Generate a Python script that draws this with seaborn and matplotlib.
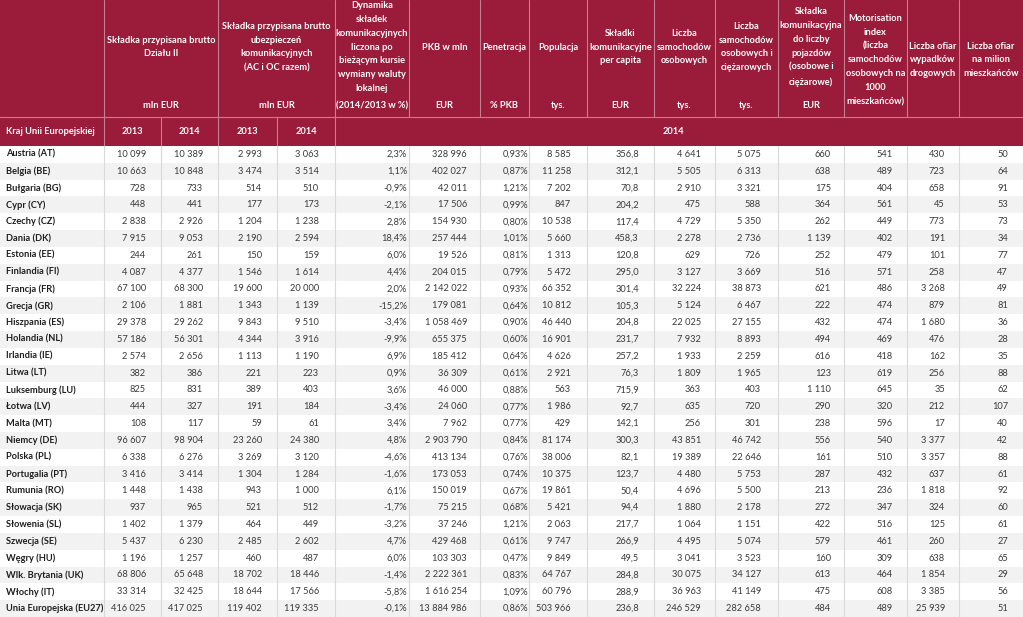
import matplotlib
matplotlib.use("Agg")
import matplotlib.pyplot as plt
from matplotlib.patches import Rectangle
import seaborn as sns

sns.set_theme(style="white")
plt.rcParams['font.family'] = ['Lato', 'DejaVu Sans']

# ---------------- data ----------------
countries = ["Austria (AT)", "Belgia (BE)", "Bułgaria (BG)", "Cypr (CY)", "Czechy (CZ)",
             "Dania (DK)", "Estonia (EE)", "Finlandia (FI)", "Francja (FR)", "Grecja (GR)",
             "Hiszpania (ES)", "Holandia (NL)", "Irlandia (IE)", "Litwa (LT)",
             "Luksemburg (LU)", "Łotwa (LV)", "Malta (MT)", "Niemcy (DE)", "Polska (PL)",
             "Portugalia (PT)", "Rumunia (RO)", "Słowacja (SK)", "Słowenia (SL)",
             "Szwecja (SE)", "Węgry (HU)", "Wlk. Brytania (UK)", "Włochy (IT)",
             "Unia Europejska (EU27)"]
dzial2_2013 = [10099, 10663, 728, 448, 2838, 7915, 244, 4087, 67100, 2106, 29378, 57186, 2574, 382,
               825, 444, 108, 96607, 6338, 3416, 1448, 937, 1402, 5437, 1196, 68806, 33314, 416025]
dzial2_2014 = [10389, 10848, 733, 441, 2926, 9053, 261, 4377, 68300, 1881, 29262, 56301, 2656, 386,
               831, 327, 117, 98904, 6276, 3414, 1438, 965, 1379, 6230, 1257, 65648, 32425, 417025]
kom_2013 = [2993, 3474, 514, 177, 1204, 2190, 150, 1546, 19600, 1343, 9843, 4344, 1113, 221,
            389, 191, 59, 23260, 3269, 1304, 943, 521, 464, 2485, 460, 18702, 18644, 119402]
kom_2014 = [3063, 3514, 510, 173, 1238, 2594, 159, 1614, 20000, 1139, 9510, 3916, 1190, 223,
            403, 184, 61, 24380, 3120, 1284, 1000, 512, 449, 2602, 487, 18446, 17566, 119335]
dynamika = [2.3, 1.1, -0.9, -2.1, 2.8, 18.4, 6.0, 4.4, 2.0, -15.2, -3.4, -9.9, 6.9, 0.9,
            3.6, -3.4, 3.4, 4.8, -4.6, -1.6, 6.1, -1.7, -3.2, 4.7, 6.0, -1.4, -5.8, -0.1]
pkb = [328996, 402027, 42011, 17506, 154930, 257444, 19526, 204015, 2142022, 179081, 1058469,
       655375, 185412, 36309, 46000, 24060, 7962, 2903790, 413134, 173053, 150019, 75215, 37246,
       429468, 103303, 2222361, 1616254, 13884986]
penetracja = [0.93, 0.87, 1.21, 0.99, 0.80, 1.01, 0.81, 0.79, 0.93, 0.64, 0.90, 0.60, 0.64, 0.61,
              0.88, 0.77, 0.77, 0.84, 0.76, 0.74, 0.67, 0.68, 1.21, 0.61, 0.47, 0.83, 1.09, 0.86]
populacja = [8585, 11258, 7202, 847, 10538, 5660, 1313, 5472, 66352, 10812, 46440, 16901, 4626, 2921,
             563, 1986, 429, 81174, 38006, 10375, 19861, 5421, 2063, 9747, 9849, 64767, 60796, 503966]
per_capita = [356.8, 312.1, 70.8, 204.2, 117.4, 458.3, 120.8, 295.0, 301.4, 105.3, 204.8, 231.7,
              257.2, 76.3, 715.9, 92.7, 142.1, 300.3, 82.1, 123.7, 50.4, 94.4, 217.7, 266.9, 49.5,
              284.8, 288.9, 236.8]
osobowe = [4641, 5505, 2910, 475, 4729, 2278, 629, 3127, 32224, 5124, 22025, 7932, 1933, 1809,
           363, 635, 256, 43851, 19389, 4480, 4696, 1880, 1064, 4495, 3041, 30075, 36963, 246529]
osob_ciez = [5075, 6313, 3321, 588, 5350, 2736, 726, 3669, 38873, 6467, 27155, 8893, 2259, 1965,
             403, 720, 301, 46742, 22646, 5753, 5500, 2178, 1151, 5074, 3523, 34127, 41149, 282658]
skladka_poj = [660, 638, 175, 364, 262, 1139, 252, 516, 621, 222, 432, 494, 616, 123,
               1110, 290, 238, 556, 161, 287, 213, 272, 422, 579, 160, 613, 475, 484]
motor = [541, 489, 404, 561, 449, 402, 479, 571, 486, 474, 474, 469, 418, 619,
         645, 320, 596, 540, 510, 432, 236, 347, 516, 461, 309, 464, 608, 489]
ofiary = [430, 723, 658, 45, 773, 191, 101, 258, 3268, 879, 1680, 476, 162, 256,
          35, 212, 17, 3377, 3357, 637, 1818, 324, 125, 260, 638, 1854, 3385, 25939]
ofiary_mln = [50, 64, 91, 53, 73, 34, 77, 47, 49, 81, 36, 28, 35, 88,
              62, 107, 40, 42, 88, 61, 92, 60, 61, 27, 65, 29, 56, 51]

header_main = [
    ("Składka przypisana brutto\nDziału II", "mln EUR", 1, 3),
    ("Składka przypisana brutto\nubezpieczeń\nkomunikacyjnych\n(AC i OC razem)", "mln EUR", 3, 5),
    ("Dynamika\nskładek\nkomunikacyjnych\nliczona po\nbieżącym kursie\nwymiany waluty\nlokalnej",
     "(2014/2013 w %)", 5, 6),
    ("PKB w mln", "EUR", 6, 7),
    ("Penetracja", "% PKB", 7, 8),
    ("Populacja", "tys.", 8, 9),
    ("Składki\nkomunikacyjne\nper capita", "EUR", 9, 10),
    ("Liczba\nsamochodów\nosobowych", "tys.", 10, 11),
    ("Liczba\nsamochodów\nosobowych i\nciężarowych", "tys.", 11, 12),
    ("Składka\nkomunikacyjna\ndo liczby\npojazdów\n(osobowe i\nciężarowe)", "EUR", 12, 13),
]
header_centered = [
    ("Motorisation\nindex\n(liczba\nsamochodów\nosobowych na\n1000\nmieszkańców)", 13),
    ("Liczba ofiar\nwypadków\ndrogowych", 14),
    ("Liczba ofiar\nna milion\nmieszkańców", 15),
]
sub_label = "Kraj Unii Europejskiej"
sub_years = ["2013", "2014", "2013", "2014"]
sub_merged = "2014"

# ---------------- formatting ----------------
def fint(v):
    return f"{v:,}".replace(",", " ")

def fdec(v, d):
    s = f"{v:,.{d}f}"
    return s.replace(",", " ").replace(".", ",")

columns = [
    [fint(v) for v in dzial2_2013],
    [fint(v) for v in dzial2_2014],
    [fint(v) for v in kom_2013],
    [fint(v) for v in kom_2014],
    [fdec(v, 1) + "%" for v in dynamika],
    [fint(v) for v in pkb],
    [fdec(v, 2) + "%" for v in penetracja],
    [fint(v) for v in populacja],
    [fdec(v, 1) for v in per_capita],
    [fint(v) for v in osobowe],
    [fint(v) for v in osob_ciez],
    [fint(v) for v in skladka_poj],
    [fint(v) for v in motor],
    [fint(v) for v in ofiary],
    [fint(v) for v in ofiary_mln],
]

# ---------------- layout ----------------
W, H = 1023, 617
edges = [0, 104, 161, 218, 277, 335, 409, 480, 529, 587, 654, 715, 778, 844, 907, 959, 1023]
pad_right = [15, 15, 15, 16, 2, 13, 1, 16, 15, 14, 17, 13, 14, 14, 15]
h1, h2 = 117, 146
nrows = len(countries)
rh = (H - h2) / nrows

RED = "#9A1B3A"
LINE_H = "#C47F92"
GRID = "#D9D9D9"
STRIPE = "#F2F2F2"
TXT = "#3A3A3A"
FS = 6.7
LS = 1.7

fig = plt.figure(figsize=(W / 100, H / 100), dpi=100)
ax = fig.add_axes([0, 0, 1, 1])
ax.set_xlim(0, W)
ax.set_ylim(H, 0)
ax.axis("off")

# header background
ax.add_patch(Rectangle((0, 0), W, h2, facecolor=RED, edgecolor="none"))
ax.plot([0, W], [h1, h1], color=LINE_H, lw=0.8)
merged_row1 = {2, 4}
for i, x in enumerate(edges[1:-1], start=1):
    if i in merged_row1:
        continue
    ax.plot([x, x], [0, h1], color=LINE_H, lw=0.8)
for x in edges[1:6]:
    ax.plot([x, x], [h1, h2], color=LINE_H, lw=0.8)

# header texts
for main, unit, c0, c1 in header_main:
    xc = (edges[c0] + edges[c1]) / 2
    ax.text(xc, 47, main, ha="center", va="center", color="white", fontsize=FS,
            fontweight="bold", linespacing=LS)
    ax.text(xc, 106, unit, ha="center", va="center", color="white", fontsize=FS,
            fontweight="bold")
for main, c in header_centered:
    xc = (edges[c] + edges[c + 1]) / 2
    ax.text(xc, 60, main, ha="center", va="center", color="white", fontsize=FS,
            fontweight="bold", linespacing=LS)

ym = (h1 + h2) / 2
ax.text(6, ym, sub_label, ha="left", va="center", color="white", fontsize=FS, fontweight="bold")
for k, yl in enumerate(sub_years):
    xc = (edges[k + 1] + edges[k + 2]) / 2
    ax.text(xc, ym, yl, ha="center", va="center", color="white", fontsize=FS, fontweight="bold")
ax.text((edges[5] + edges[-1]) / 2 - 6, ym, sub_merged, ha="center", va="center", color="white",
        fontsize=FS, fontweight="bold")

# body stripes
for r in range(nrows):
    y0 = h2 + r * rh
    if r % 2 == 1:
        ax.add_patch(Rectangle((0, y0), W, rh, facecolor=STRIPE, edgecolor="none"))
for x in edges[1:-1]:
    ax.plot([x, x], [h2, H], color=GRID, lw=0.8)

# body text
for r, name in enumerate(countries):
    yc = h2 + (r + 0.5) * rh
    ax.text(6, yc, name, ha="left", va="center", color="#1E1E1E", fontsize=FS, fontweight="bold")
    for c, col in enumerate(columns):
        xr = edges[c + 2] - pad_right[c]
        ax.text(xr, yc, col[r], ha="right", va="center", color=TXT, fontsize=FS)

fig.savefig("out.png", dpi=100)
